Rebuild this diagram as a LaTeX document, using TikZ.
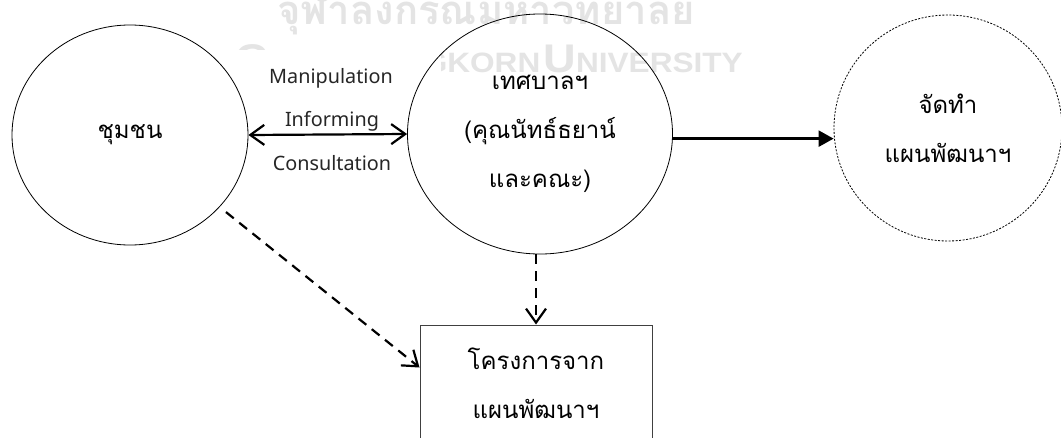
\documentclass[tikz,border=0pt]{standalone}
\usepackage{fontspec}
\setmainfont{Noto Sans}
\newfontfamily\thai[Script=Thai]{Loma}
\newfontfamily\wmfont{Liberation Sans}
\usetikzlibrary{shapes.geometric,arrows.meta,calc}
\definecolor{wmgray}{RGB}{228,228,228}
\begin{document}
\begin{tikzpicture}[x=1pt,y=-1pt,
  wm/.style={inner sep=0pt, text=wmgray},
  oval/.style={ellipse, draw=black, line width=0.8pt, inner sep=0pt, align=center,
    font={\thai\fontsize{24}{49}\selectfont}},
  dotoval/.style={oval, dash pattern=on 2pt off 1.5pt},
  boxst/.style={rectangle, draw=black!75, line width=1pt, inner sep=0pt, align=center,
    font={\thai\fontsize{24}{49}\selectfont}},
  lab/.style={inner sep=0pt, font={\fontsize{19.8}{21}\selectfont}, text=black!85},
  dbl/.style={line width=2.2pt, {Straight Barb[length=14pt,width=20pt]}-{Straight Barb[length=14pt,width=20pt]}},
  solidarr/.style={line width=2.4pt, -{Triangle[length=15pt,width=16pt]}},
  dasharr/.style={line width=2.2pt, dash pattern=on 10pt off 7pt, -{Straight Barb[length=14pt,width=20pt]}}
]
\clip (0,0) rectangle (1061,437);
\fill[white] (0,0) rectangle (1061,437);
% watermark
\node[wm, anchor=base] (wmth) at (486,24) {\thai\bfseries\fontsize{40}{40}\selectfont จุฬาลงกรณ์มหาวิทยาลัย};
\node[wm, anchor=base east] (wmen) at (743,72) {\scalebox{1.128}[1]{\wmfont\bfseries{\fontsize{40}{40}\selectfont C}{\fontsize{28}{28}\selectfont HULALONGKORN} {\fontsize{40}{40}\selectfont U}{\fontsize{28}{28}\selectfont NIVERSITY}}};
\fill[white] (232,50) rectangle (441,190);
% shapes
\node[oval, minimum width=236pt, minimum height=220pt] (e1) at (130,135) {ชุมชน};
\node[oval, minimum width=265pt, minimum height=240pt] (e2) at (540,134) {เทศบาลฯ\\(คุณนัทธ์ธยาน์\\และคณะ)};
\node[dotoval, minimum width=228pt, minimum height=226pt] (e3) at (948,128) {จัดทำ\\แผนพัฒนาฯ};
\node[boxst, minimum width=232pt, minimum height=116pt] (box) at (536,383) {โครงการจาก\\แผนพัฒนาฯ};
% labels
\node[lab] (l1) at (331,78) {Manipulation};
\node[lab] (l2) at (332,121) {Informing};
\node[lab] (l3) at (332,163) {Consultation};
% connectors
\draw[dbl] (e1.east) -- (e2.west);
\draw[solidarr] (e2.-2.2) -- (e2.-2.2 -| e3.west);
\draw[dasharr] (box.north |- e2.south) -- (box.north);
\draw[dasharr, shorten <=8pt] (e1) -- ($(box.north west)+(0,43)$);
\end{tikzpicture}
\end{document}
